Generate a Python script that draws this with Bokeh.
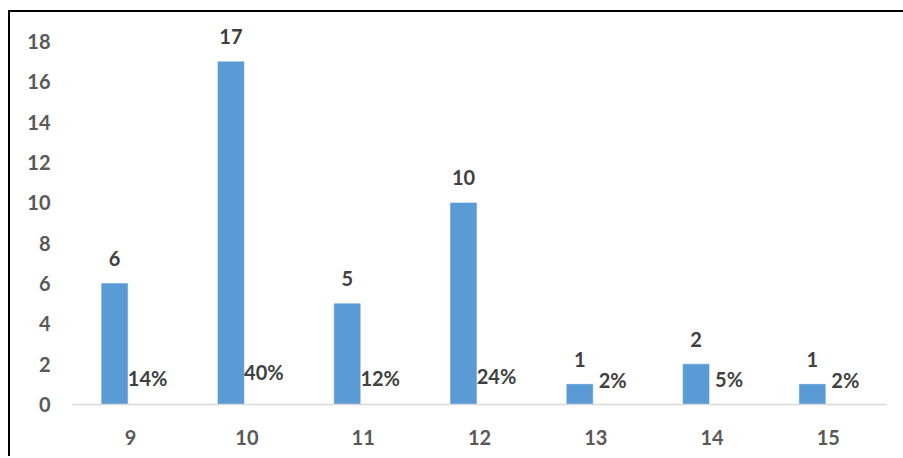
from bokeh.plotting import figure
from bokeh.models import ColumnDataSource, FactorRange
from bokeh.transform import dodge
from bokeh.core.properties import value
from bokeh.embed import file_html
from bokeh.resources import INLINE

categories = ["9", "10", "11", "12", "13", "14", "15"]
counts = [6, 17, 5, 10, 1, 2, 1]
shares = [0.14, 0.40, 0.12, 0.24, 0.02, 0.05, 0.02]
share_labels = ["14%", "40%", "12%", "24%", "2%", "5%", "2%"]
y_ticks = [0, 2, 4, 6, 8, 10, 12, 14, 16, 18]

src = ColumnDataSource(dict(
    cat=categories,
    count=counts,
    count_label=[str(c) for c in counts],
    share=shares,
    share_label=share_labels,
))

p = figure(
    x_range=FactorRange(*categories, range_padding=0),
    y_range=(0, 19),
    frame_width=814, frame_height=383,
    min_border_left=62, min_border_right=17, min_border_top=9, min_border_bottom=52,
    output_backend="svg", toolbar_location=None,
    styles={"margin-left": "8px", "margin-top": "10px",
            "border-left": "2px solid black", "border-top": "2px solid black"},
)

p.vbar(x=dodge("cat", -0.1376, range=p.x_range), top="count", width=0.2236,
       bottom=0, source=src, fill_color="#5B9BD5", line_color="#5B9BD5", line_width=0.5)

font = value("Lato")
p.text(x=dodge("cat", -0.1376, range=p.x_range), y="count", text="count_label",
       source=src, text_align="center", text_baseline="middle", y_offset=-25,
       text_font=font, text_font_style="bold", text_font_size="20px", text_color="#404040")
p.text(x=dodge("cat", 0.146, range=p.x_range), y="share", text="share_label",
       source=src, text_align="center", text_baseline="middle", y_offset=-24,
       text_font=font, text_font_style="bold", text_font_size="20px", text_color="#404040")

p.xgrid.visible = False
p.ygrid.visible = False
p.outline_line_color = None

p.yaxis.ticker = y_ticks
p.yaxis.axis_line_color = None
p.yaxis.major_tick_line_color = None
p.yaxis.minor_tick_line_color = None
p.yaxis.major_tick_out = 0
p.yaxis.major_tick_in = 0
p.yaxis.major_label_standoff = 22
p.yaxis.major_label_text_font = "Lato"
p.yaxis.major_label_text_font_style = "bold"
p.yaxis.major_label_text_font_size = "20px"
p.yaxis.major_label_text_color = "#595959"

p.xaxis.axis_line_color = "#D9D9D9"
p.xaxis.axis_line_width = 1.5
p.xaxis.major_tick_line_color = None
p.xaxis.minor_tick_line_color = None
p.xaxis.major_tick_out = 0
p.xaxis.major_tick_in = 0
p.xaxis.major_label_standoff = 25
p.xaxis.major_label_text_font = "Lato"
p.xaxis.major_label_text_font_style = "bold"
p.xaxis.major_label_text_font_size = "20px"
p.xaxis.major_label_text_color = "#595959"

open("out.html", "w").write(file_html(p, INLINE))
